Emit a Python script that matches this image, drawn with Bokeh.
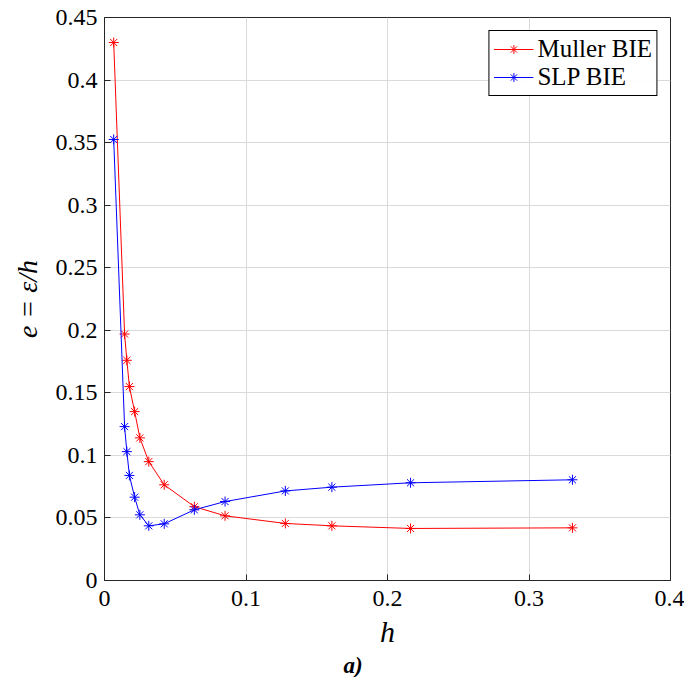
from bokeh.plotting import figure
from bokeh.models import (Range1d, FixedTicker, Title, NumeralTickFormatter)
from bokeh.embed import file_html
from bokeh.resources import INLINE

# ---- data ----
h = [0.0065, 0.0142, 0.0158, 0.0176, 0.0213, 0.0250, 0.0313, 0.0422,
     0.0635, 0.0852, 0.1278, 0.1607, 0.2163, 0.3307]
muller_bie = [0.430, 0.197, 0.176, 0.155, 0.135, 0.114, 0.095, 0.0765,
              0.059, 0.0517, 0.0456, 0.0437, 0.0416, 0.0421]
slp_bie = [0.3525, 0.123, 0.103, 0.084, 0.0666, 0.0525, 0.0437, 0.0453,
           0.0565, 0.0631, 0.0716, 0.0746, 0.0781, 0.0805]
series_names = ["Muller BIE", "SLP BIE"]
x_ticks = [0, 0.1, 0.2, 0.3, 0.4]
y_ticks = [0, 0.05, 0.1, 0.15, 0.2, 0.25, 0.3, 0.35, 0.4, 0.45]

AXC = "#262626"
SERIF = "serif"

p = figure(width=684, height=677, output_backend="svg", toolbar_location=None,
           x_range=Range1d(0, 0.4), y_range=Range1d(0, 0.45),
           min_border_left=104, min_border_right=14, min_border_top=17,
           min_border_bottom=10)
p.outline_line_color = AXC
p.outline_line_width = 1

p.xaxis.ticker = FixedTicker(ticks=x_ticks)
p.yaxis.ticker = FixedTicker(ticks=y_ticks)
p.xaxis.formatter = NumeralTickFormatter(format="0.[00]")
p.yaxis.formatter = NumeralTickFormatter(format="0.[00]")
p.axis.major_tick_in = 6
p.axis.major_tick_out = 0
p.axis.minor_tick_line_color = None
p.axis.axis_line_color = AXC
p.axis.major_tick_line_color = AXC
p.xaxis.major_label_text_font = SERIF
p.yaxis.major_label_text_font = SERIF
p.xaxis.major_label_text_font_size = "24px"
p.yaxis.major_label_text_font_size = "24px"
p.xaxis.major_label_text_color = "black"
p.yaxis.major_label_text_color = "black"
p.xaxis.major_label_standoff = 10
p.yaxis.major_label_standoff = 7

p.xaxis.axis_label = "h"
p.xaxis.axis_label_text_font = SERIF
p.xaxis.axis_label_text_font_style = "italic"
p.xaxis.axis_label_text_font_size = "30px"
p.xaxis.axis_label_text_color = "black"
p.xaxis.axis_label_standoff = 6
p.yaxis.axis_label = "e = ε/h"
p.yaxis.axis_label_text_font = SERIF
p.yaxis.axis_label_text_font_style = "italic"
p.yaxis.axis_label_text_font_size = "28px"
p.yaxis.axis_label_text_color = "black"
p.yaxis.axis_label_standoff = 10

p.grid.grid_line_color = "#dadada"
p.grid.grid_line_width = 1
p.xgrid.ticker = FixedTicker(ticks=x_ticks)
p.ygrid.ticker = FixedTicker(ticks=y_ticks)

p.line(h, muller_bie, line_color="#ff0000", line_width=1, legend_label=series_names[0])
p.scatter(h, muller_bie, marker="asterisk", size=10, line_color="#ff0000",
          line_width=1, legend_label=series_names[0])
p.line(h, slp_bie, line_color="#0000ff", line_width=1, legend_label=series_names[1])
p.scatter(h, slp_bie, marker="asterisk", size=10, line_color="#0000ff",
          line_width=1, legend_label=series_names[1])

p.legend.location = "top_right"
p.legend.margin = 13
p.legend.padding = 4
p.legend.spacing = 0
p.legend.glyph_width = 40
p.legend.glyph_height = 22
p.legend.label_standoff = 4
p.legend.label_text_font = SERIF
p.legend.label_text_font_size = "25px"
p.legend.label_text_color = "black"
p.legend.border_line_color = "black"
p.legend.border_line_width = 1
p.legend.border_line_alpha = 1

cap = Title(text="a)", align="left", offset=239, text_font=SERIF,
            text_font_style="bold italic", text_font_size="23px",
            text_color="black", standoff=0)
p.add_layout(cap, "below")

open("out.html", "w").write(file_html(p, INLINE))
